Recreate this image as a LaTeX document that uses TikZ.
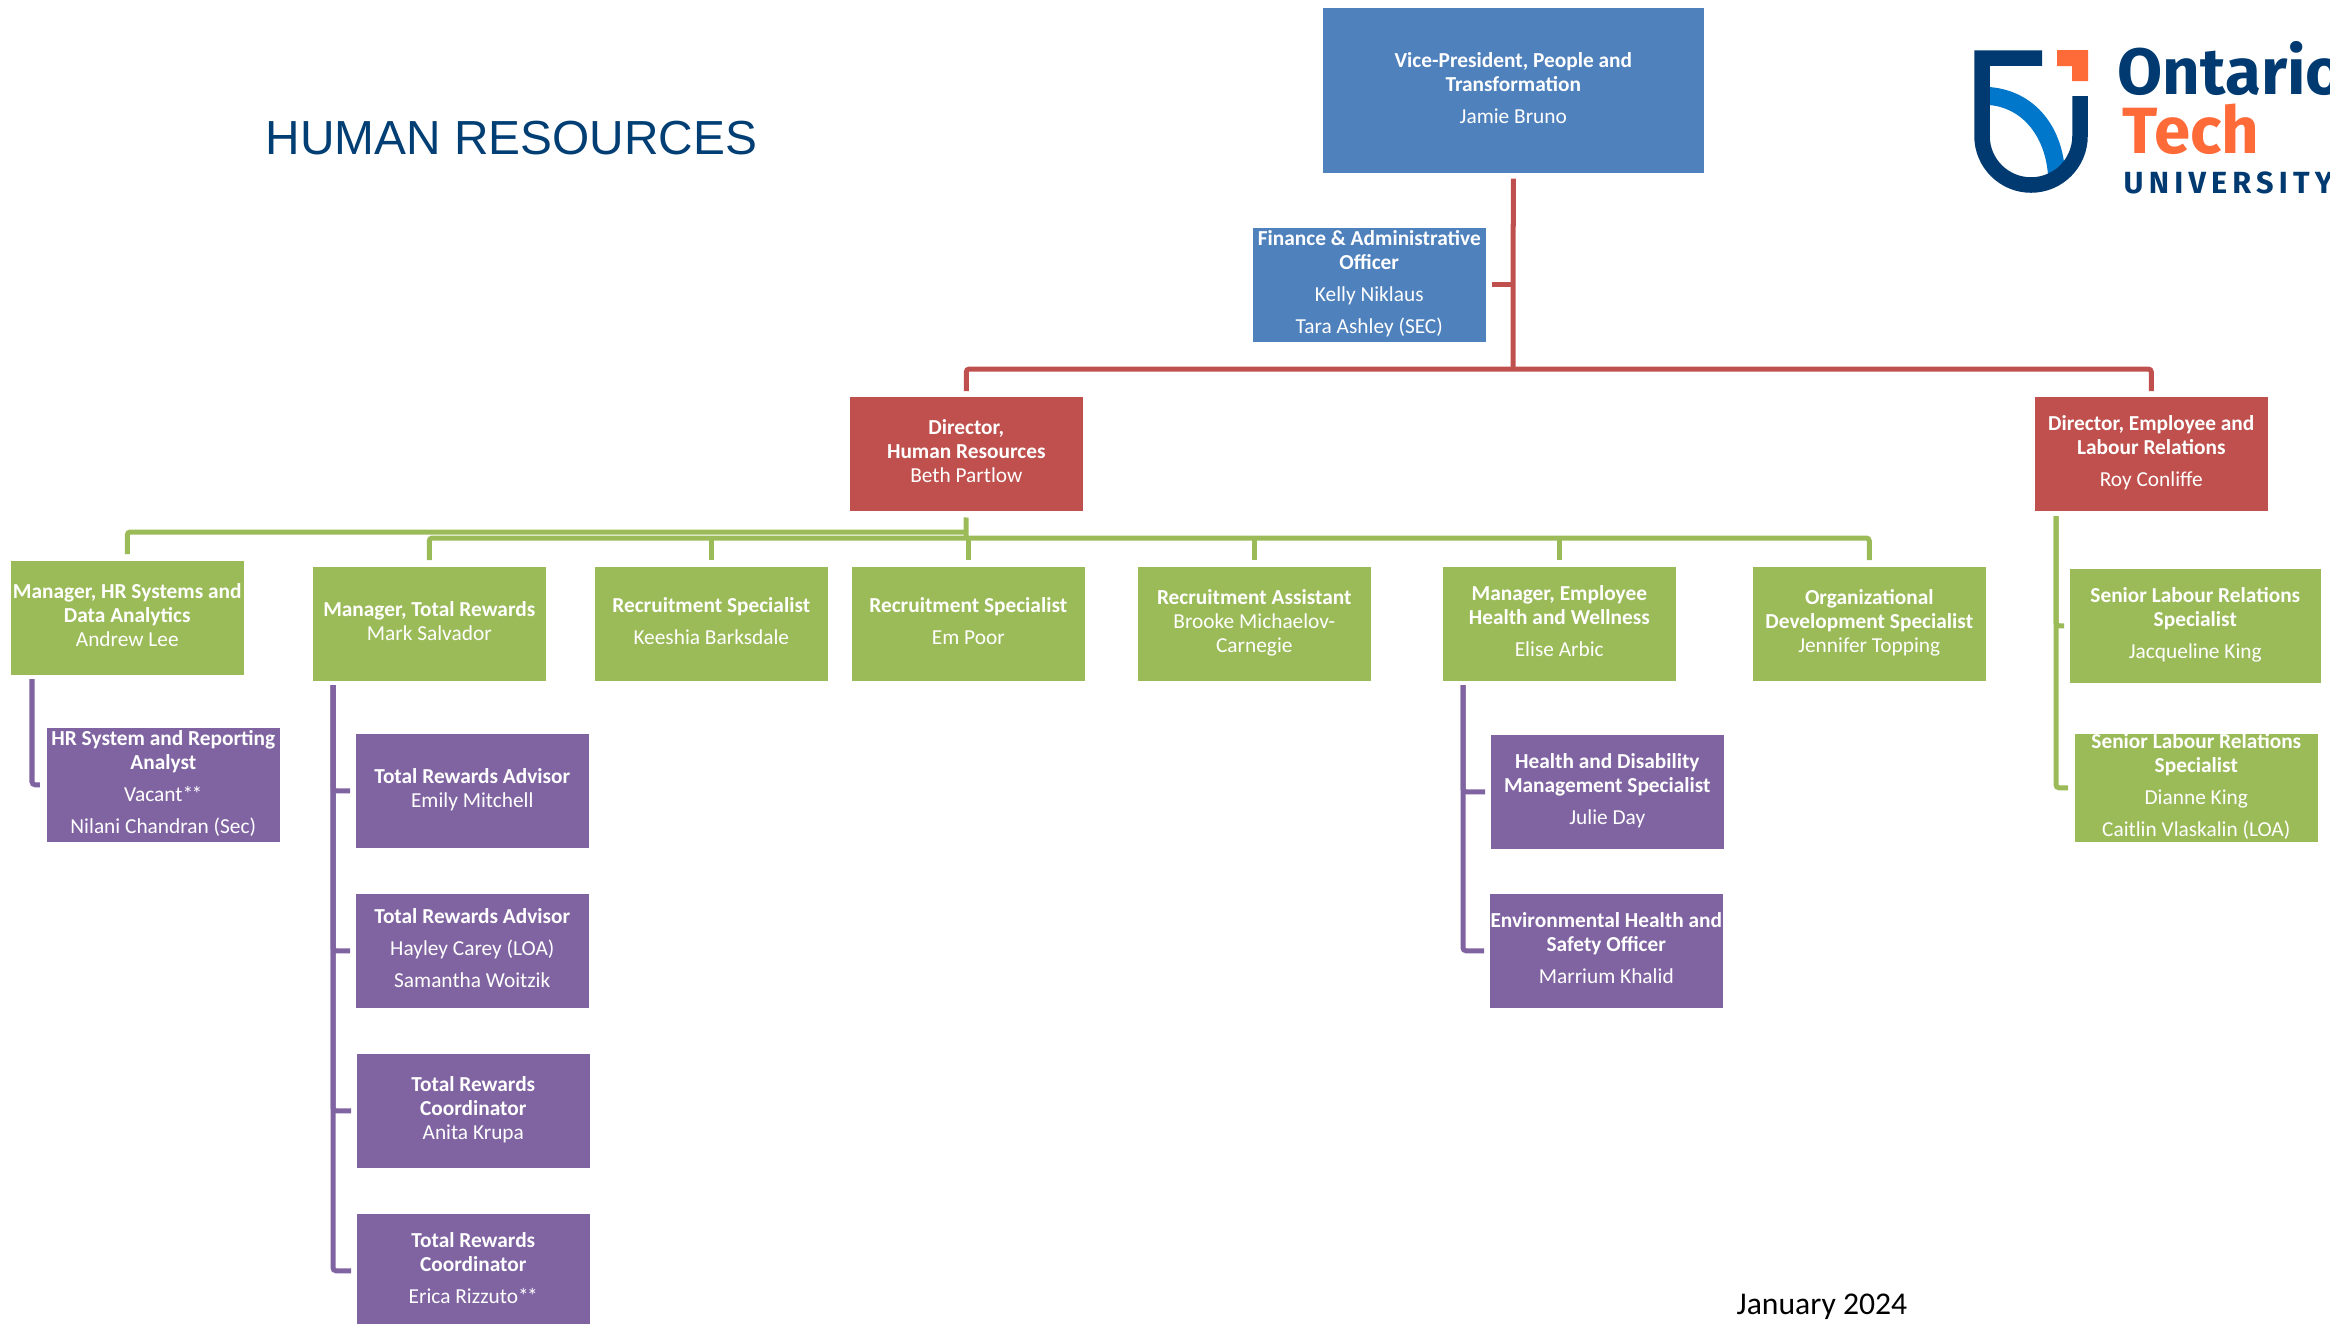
\documentclass[tikz,border=0pt]{standalone}
\usepackage{fontspec}
\setmainfont{Carlito}
\newfontfamily\titlefont{Liberation Sans}
\newfontfamily\logofont{Fira Sans}
\usetikzlibrary{positioning}
\definecolor{hrblue}{HTML}{4F81BD}
\definecolor{hrred}{HTML}{C0504D}
\definecolor{hrgreen}{HTML}{9BBB59}
\definecolor{hrpurple}{HTML}{8064A2}
\definecolor{hrnavy}{HTML}{003E74}
\definecolor{logonavy}{HTML}{003A70}
\definecolor{logosky}{HTML}{0077CA}
\definecolor{logoorange}{HTML}{FF6A39}
\tikzset{
    box/.style={
        anchor=north west,
        minimum width=2.33cm,
        minimum height=1.14cm,
        inner sep=0pt,
        align=center,
        text=white,
        font=\fontsize{6.07}{6.83}\selectfont,
        execute at begin node={\rule{0pt}{.14cm}},
        execute at end node={\rule[-.05cm]{0pt}{0pt}},
    },
    bluebox/.style={box, fill=hrblue},
    redbox/.style={box, fill=hrred},
    greenbox/.style={box, fill=hrgreen},
    purplebox/.style={box, fill=hrpurple},
    conn/.style={line width=0.05cm, rounded corners=0.03cm},
    redline/.style={conn, draw=hrred},
    greenline/.style={conn, draw=hrgreen},
    purpleline/.style={conn, draw=hrpurple},
}

\begin{document}
\begin{tikzpicture}[x=0.01cm, y=-0.01cm]
        \useasboundingbox (0,0) rectangle (2330,1323);

        \node[text=hrnavy, anchor=base west, inner sep=0pt, font=\titlefont\fontsize{13.6}{16}\selectfont] (title) at (265,154) {HUMAN RESOURCES};
        \node[text=black, anchor=west, inner sep=0pt, font=\fontsize{9}{10}\selectfont] (date) at (1736,1307) {January 2024};

        % logo
        \fill[logosky] (1989,87) .. controls (2030,90) and (2058,120) .. (2064,162)
            -- (2048,176) .. controls (2046,140) and (2025,108) .. (1989,105) -- cycle;
        \draw[logonavy, line width=0.155cm] (2042,58) -- (1982,58) -- (1982,136)
            arc[start angle=180, end angle=0, radius=49] -- (2080,96);
        \fill[logoorange] (2057,50) -- (2088,50) -- (2088,81) -- (2072,81) -- (2072,66) -- (2057,66) -- cycle;
        \node[text=logonavy, anchor=base west, inner sep=0pt, font=\logofont\bfseries\fontsize{18.6}{20}\selectfont] (ontario) at (2117,94) {Ontario};
        \node[text=logoorange, anchor=base west, inner sep=0pt, font=\logofont\bfseries\fontsize{18.6}{20}\selectfont] (tech) at (2122,153) {Tech};
        \node[text=logonavy, anchor=base west, inner sep=0pt, font=\logofont\bfseries\fontsize{8.7}{10}\selectfont\addfontfeatures{LetterSpace=17}] (univ) at (2123,193) {UNIVERSITY};

        % vice-president
        \node[bluebox, minimum width=3.81cm, minimum height=1.65cm] (vp) at (1322,7) {\textbf{Vice-President, People and}\\\textbf{Transformation}\\[.08cm]Jamie Bruno};
        \node[bluebox] (finance) at (1252,227) {\textbf{Finance \& Administrative}\\\textbf{Officer}\\[.08cm]Kelly Niklaus\\[.08cm]Tara Ashley (SEC)};

        % directors
        \node[redbox] (dirhr) at (849,396) {\textbf{Director,}\\\textbf{Human Resources}\\Beth Partlow};
        \node[redbox] (direlr) at (2034,396) {\textbf{Director, Employee and}\\\textbf{Labour Relations}\\[.08cm]Roy Conliffe};

        % green row
        \node[greenbox] (mansys) at (10,560) {\textbf{Manager, HR Systems and}\\\textbf{Data Analytics}\\Andrew Lee};
        \node[greenbox] (mantr) at (312,566) {\textbf{Manager, Total Rewards}\\Mark Salvador};
        \node[greenbox] (recspa) at (594,566) {\textbf{Recruitment Specialist}\\[.08cm]Keeshia Barksdale};
        \node[greenbox] (recspb) at (851,566) {\textbf{Recruitment Specialist}\\[.08cm]Em Poor};
        \node[greenbox] (recas) at (1137,566) {\textbf{Recruitment Assistant}\\Brooke Michaelov-\\Carnegie};
        \node[greenbox] (manhw) at (1442,566) {\textbf{Manager, Employee}\\\textbf{Health and Wellness}\\[.08cm]Elise Arbic};
        \node[greenbox] (orgdev) at (1752,566) {\textbf{Organizational}\\\textbf{Development Specialist}\\Jennifer Topping};

        % labour relations
        \node[greenbox, minimum width=2.51cm] (slra) at (2069,568) {\textbf{Senior Labour Relations}\\\textbf{Specialist}\\[.08cm]Jacqueline King};
        \node[greenbox, minimum width=2.43cm, minimum height=1.08cm] (slrb) at (2074,733) {\textbf{Senior Labour Relations}\\\textbf{Specialist}\\[.08cm]Dianne King\\[.08cm]Caitlin Vlaskalin (LOA)};

        % purple boxes
        \node[purplebox] (hrsys) at (46,727) {\textbf{HR System and Reporting}\\\textbf{Analyst}\\[.08cm]Vacant*\kern-.015cm*\\[.08cm]Nilani Chandran (Sec)};
        \node[purplebox] (traa) at (355,733) {\textbf{Total Rewards Advisor}\\Emily Mitchell};
        \node[purplebox] (trab) at (355,893) {\textbf{Total Rewards Advisor}\\[.08cm]Hayley Carey (LOA)\\[.08cm]Samantha Woitzik};
        \node[purplebox] (trca) at (356,1053) {\textbf{Total Rewards}\\\textbf{Coordinator}\\Anita Krupa};
        \node[purplebox] (trcb) at (356,1213) {\textbf{Total Rewards}\\\textbf{Coordinator}\\[.08cm]Erica Rizzuto*\kern-.015cm*};
        \node[purplebox] (hds) at (1490,734) {\textbf{Health and Disability}\\\textbf{Management Specialist}\\[.08cm]Julie Day};
        \node[purplebox] (env) at (1489,893) {\textbf{Environmental Health and}\\\textbf{Safety Officer}\\[.08cm]Marrium Khalid};

        % free ends of the lines
        \coordinate (redbus) at (1513,369);
        \coordinate (greenbusa) at (966,532);
        \coordinate (greenbusb) at (966,538);
        \coordinate (systop) at (32,679);
        \coordinate (trtop) at (333,685);
        \coordinate (hwtop) at (1463,685);
        \coordinate (lrtop) at (2056,516);

        % red lines
        \draw[redline, shorten <=0.05cm] (vp.south) -- (redbus);
        \draw[redline, shorten <=0.05cm] (finance.east) -- (vp.south |- finance.east);
        \draw[redline, shorten <=0.05cm, shorten >=0.05cm] (dirhr.north) |- (redbus) -| (direlr.north);

        % green lines
        \draw[greenline, shorten <=0.06cm] (dirhr.south) -- (greenbusb);
        \draw[greenline, shorten <=0.06cm] (mansys.north) |- (greenbusa);
        \draw[greenline, shorten <=0.06cm, shorten >=0.06cm] (mantr.north) |- (greenbusb) -| (orgdev.north);
        \foreach \n in {recspa, recspb, recas, manhw}
            \draw[greenline, shorten <=0.06cm] (\n.north) -- (\n.north |- greenbusb);
        \draw[greenline, shorten >=0.05cm] (lrtop) |- (slra.west);
        \draw[greenline, shorten >=0.06cm] (lrtop) |- (slrb.west);

        % purple lines
        \draw[purpleline, shorten >=0.06cm] (systop) |- (hrsys.west);
        \foreach \n in {traa, trab, trca, trcb}
            \draw[purpleline, shorten >=0.05cm] (trtop) |- (\n.west);
        \foreach \n in {hds, env}
            \draw[purpleline, shorten >=0.05cm] (hwtop) |- (\n.west);
\end{tikzpicture}
\end{document}
